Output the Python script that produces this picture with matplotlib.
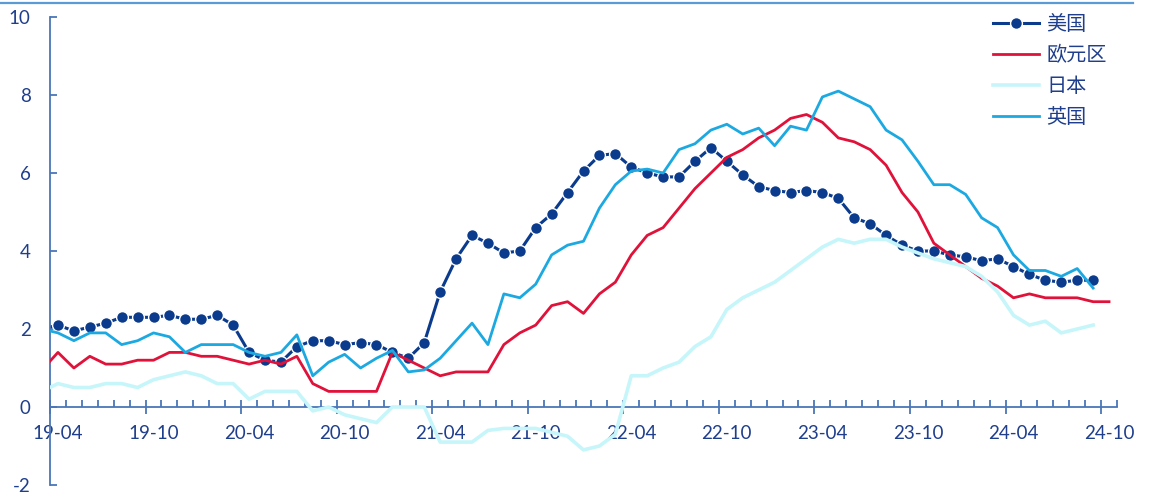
import numpy as np
import pandas as pd
import matplotlib
matplotlib.use("Agg")
import matplotlib.pyplot as plt
from matplotlib.lines import Line2D

plt.rcParams['font.family'] = ['Lato', 'Noto Sans CJK SC', 'DejaVu Sans']
plt.rcParams['axes.unicode_minus'] = False

# monthly series, 2019-03 .. 2024-10 (first month sits just left of the axis and is clipped)
months = pd.period_range('2019-03', '2024-10', freq='M')

us = [2.0, 2.1, 1.95, 2.05, 2.15, 2.3, 2.3, 2.3, 2.35, 2.25, 2.25, 2.35, 2.1,
      1.4, 1.2, 1.15, 1.55, 1.7, 1.7, 1.6, 1.65, 1.6, 1.4, 1.25, 1.65,
      2.95, 3.8, 4.4, 4.2, 3.95, 4.0, 4.6, 4.95, 5.5, 6.05, 6.45, 6.5,
      6.15, 6.0, 5.9, 5.9, 6.3, 6.65, 6.3, 5.95, 5.65, 5.55, 5.5, 5.55,
      5.5, 5.35, 4.85, 4.7, 4.4, 4.15, 4.0, 4.0, 3.9, 3.85, 3.75, 3.8,
      3.6, 3.4, 3.25, 3.2, 3.25, 3.25]

euro = [0.95, 1.4, 1.0, 1.3, 1.1, 1.1, 1.2, 1.2, 1.4, 1.4, 1.3, 1.3, 1.2,
        1.1, 1.2, 1.1, 1.3, 0.6, 0.4, 0.4, 0.4, 0.4, 1.4, 1.2, 1.0,
        0.8, 0.9, 0.9, 0.9, 1.6, 1.9, 2.1, 2.6, 2.7, 2.4, 2.9, 3.2,
        3.9, 4.4, 4.6, 5.1, 5.6, 6.0, 6.4, 6.6, 6.9, 7.1, 7.4, 7.5,
        7.3, 6.9, 6.8, 6.6, 6.2, 5.5, 5.0, 4.2, 3.9, 3.6, 3.3, 3.1,
        2.8, 2.9, 2.8, 2.8, 2.8, 2.7, 2.7]

japan = [0.4, 0.6, 0.5, 0.5, 0.6, 0.6, 0.5, 0.7, 0.8, 0.9, 0.8, 0.6, 0.6,
         0.2, 0.4, 0.4, 0.4, -0.1, 0.0, -0.2, -0.3, -0.4, 0.0, 0.0, 0.0,
         -0.9, -0.9, -0.9, -0.6, -0.55, -0.55, -0.55, -0.65, -0.75, -1.1, -1.0, -0.7,
         0.8, 0.8, 1.0, 1.15, 1.55, 1.8, 2.5, 2.8, 3.0, 3.2, 3.5, 3.8,
         4.1, 4.3, 4.2, 4.3, 4.3, 4.1, 3.95, 3.8, 3.7, 3.6, 3.35, 2.95,
         2.35, 2.1, 2.2, 1.9, 2.0, 2.1]

uk = [2.0, 1.9, 1.7, 1.9, 1.9, 1.6, 1.7, 1.9, 1.8, 1.4, 1.6, 1.6, 1.6,
      1.4, 1.3, 1.4, 1.85, 0.8, 1.15, 1.35, 1.0, 1.25, 1.45, 0.9, 0.95,
      1.25, 1.7, 2.15, 1.6, 2.9, 2.8, 3.15, 3.9, 4.15, 4.25, 5.1, 5.7,
      6.05, 6.1, 6.0, 6.6, 6.75, 7.1, 7.25, 7.0, 7.15, 6.7, 7.2, 7.1,
      7.95, 8.1, 7.9, 7.7, 7.1, 6.85, 6.3, 5.7, 5.7, 5.45, 4.85, 4.6,
      3.9, 3.5, 3.5, 3.35, 3.55, 3.05]

tick_labels = ['19-04', '19-10', '20-04', '20-10', '21-04', '21-10',
               '22-04', '22-10', '23-04', '23-10', '24-04', '24-10']
y_ticks = [-2, 0, 2, 4, 6, 8, 10]

axis_color = '#4A76B8'
text_color = '#1F3F8C'

# x position of each month; 2019-04 is position 0
pos = np.arange(len(months)) - 1

fig = plt.figure(figsize=(11.49, 4.97), dpi=100)
ax = fig.add_axes([50 / 1149, 12 / 497, 1067 / 1149, 468 / 497])

ax.plot(pos[:len(us)], us, color='#0B3B8C', lw=2.2, marker='o', ms=8.5,
        mec='white', mew=1.0, zorder=2, label='美国')
ax.plot(pos[:len(euro)], euro, color='#E0123A', lw=2.0, zorder=3, label='欧元区')
ax.plot(pos[:len(japan)], japan, color='#C6F6FA', lw=2.6, zorder=4, label='日本')
ax.plot(pos[:len(uk)], uk, color='#1CA9E1', lw=2.0, zorder=5, label='英国')

n_cat = len(months) - 1
ax.set_xlim(-0.5, n_cat - 0.5)
ax.set_ylim(-2, 10)

for side in ['top', 'right']:
    ax.spines[side].set_visible(False)
ax.spines['bottom'].set_position(('data', 0))
for side in ['left', 'bottom']:
    ax.spines[side].set_color(axis_color)
    ax.spines[side].set_linewidth(1.3)

# y axis
ax.set_yticks(y_ticks)
ax.set_yticklabels([str(v) for v in y_ticks])
ax.tick_params(axis='y', direction='in', length=5, width=1.3, color=axis_color,
               labelcolor=text_color, labelsize=13.5, pad=14)

# x axis: long ticks every six months, short ticks every month
ax.set_xticks(np.arange(-0.5, n_cat, 6))
ax.set_xticks(np.arange(-0.5, n_cat, 1), minor=True)
ax.tick_params(axis='x', which='major', direction='inout', length=10, width=1.3,
               color=axis_color, labelbottom=False)
ax.tick_params(axis='x', which='minor', direction='in', length=5, width=1.3,
               color=axis_color)

# month labels centred on their category
sec = ax.secondary_xaxis(2 / 12)
sec.set_xticks(np.arange(0, n_cat, 6), tick_labels)
sec.spines['bottom'].set_visible(False)
sec.tick_params(axis='x', length=0, labelcolor=text_color, labelsize=13.5, pad=13)

leg = ax.legend(loc='upper left', bbox_to_anchor=(993 / 1149, 1 - 14 / 497),
                bbox_transform=fig.transFigure, frameon=False, fontsize=14.5,
                handlelength=2.3, handletextpad=0.35, labelspacing=0.5,
                borderpad=0, borderaxespad=0)
for t in leg.get_texts():
    t.set_color(text_color)
    t.set_family(['Noto Sans CJK SC', 'DejaVu Sans'])

fig.add_artist(Line2D([0, 1133 / 1149], [1 - 3 / 497, 1 - 3 / 497],
                      color='#5B9BD5', lw=1.6, transform=fig.transFigure))

fig.savefig('out.png', dpi=100, facecolor='white')
